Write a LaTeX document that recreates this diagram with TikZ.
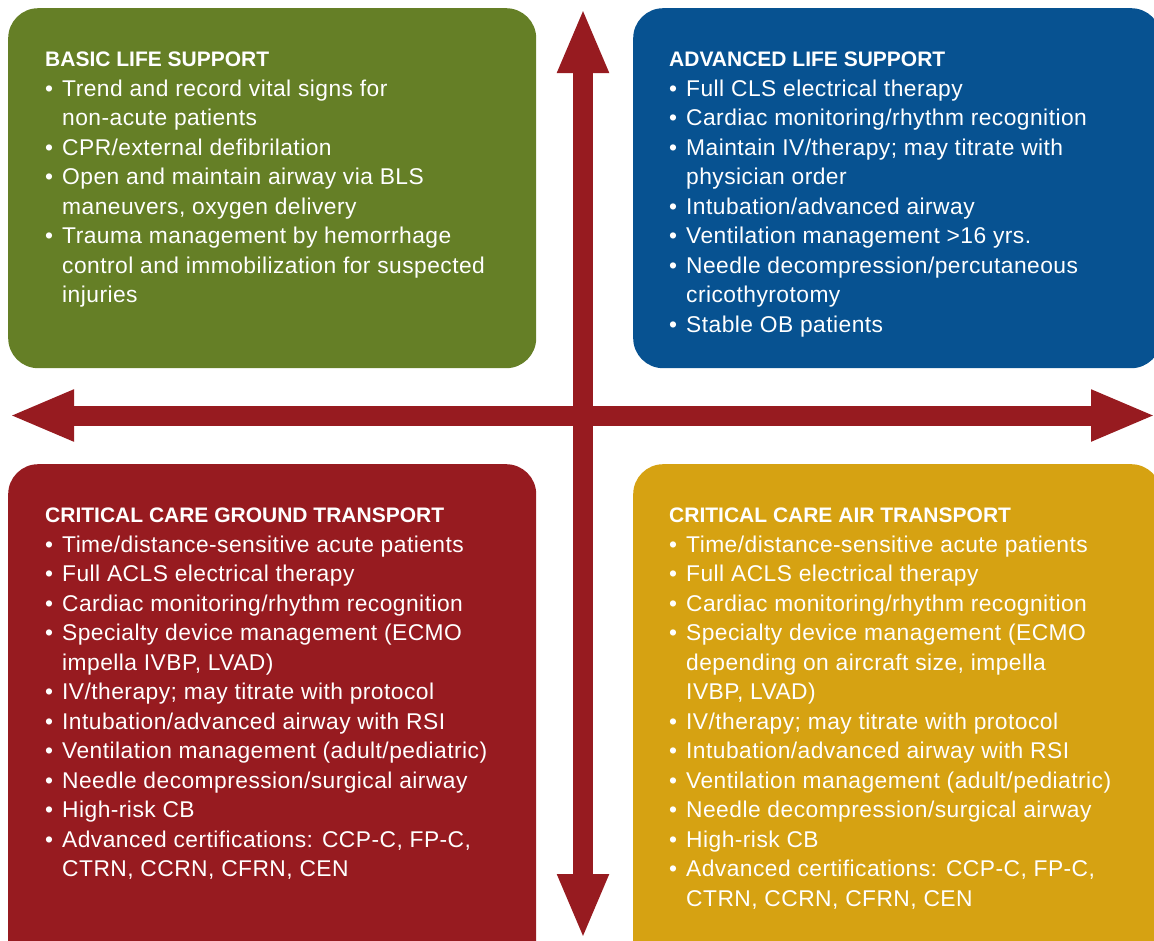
\documentclass[tikz,border=0pt]{standalone}
\usepackage{fontspec}
\setmainfont{Liberation Sans}
\newfontfamily\listfont[LetterSpace=2]{Liberation Sans}
\usepackage{tikz}
\usetikzlibrary{arrows.meta, positioning}
\definecolor{blsgreen}{RGB}{101, 127, 38}
\definecolor{alsblue}{RGB}{7, 82, 145}
\definecolor{ccgred}{RGB}{151, 27, 32}
\definecolor{ccagold}{RGB}{214, 162, 18}
\definecolor{axisred}{RGB}{151, 27, 32}

% bullet and hanging indent for the list lines
\newcommand{\itm}{\makebox[17pt][l]{\textbullet}}
\newcommand{\cnt}{\hspace*{17pt}}
\newcommand{\hd}[1]{{\normalfont\bfseries\fontsize{21}{29.5}\selectfont #1}}

\begin{document}
\begin{tikzpicture}[
        x=1pt, y=-1pt,
        panel/.style={rectangle, rounded corners=30pt, draw=none,
                    minimum width=528pt, anchor=north west, inner sep=0pt},
        blurb/.style={inner sep=0pt, align=left, text=white,
                    font=\listfont\fontsize{22.8}{29.5}\selectfont},
        axis/.style={draw=axisred, line width=20pt,
                    {Triangle[width=47pt,length=65pt]}-{Triangle[width=47pt,length=65pt]}}
      ]
        \useasboundingbox (0,0) rectangle (1154,940);
        \clip (0,0) rectangle (1154,940);

        % the four quadrants
        \node[panel, fill=blsgreen, minimum height=360pt] (bls) at (8,8) {};
        \node[panel, fill=alsblue,  minimum height=360pt] (als) at (633,8) {};
        \node[panel, fill=ccgred,   minimum height=510pt] (ccg) at (8,464) {};
        \node[panel, fill=ccagold,  minimum height=510pt] (cca) at (633,464) {};

        \node[blurb, below right=44pt and 37pt of bls.north west] (blstext) {%
          \hd{BASIC LIFE SUPPORT}\\
          \itm Trend and record vital signs for\\
          \cnt non-acute patients\\
          \itm CPR/external defibrilation\\
          \itm Open and maintain airway via BLS\\
          \cnt maneuvers, oxygen delivery\\
          \itm Trauma management by hemorrhage\\
          \cnt control and immobilization for suspected\\
          \cnt injuries};
        \node[blurb, below right=44pt and 36pt of als.north west] (alstext) {%
          \hd{ADVANCED LIFE SUPPORT}\\
          \itm Full CLS electrical therapy\\
          \itm Cardiac monitoring/rhythm recognition\\
          \itm Maintain IV/therapy; may titrate with\\
          \cnt physician order\\
          \itm Intubation/advanced airway\\
          \itm Ventilation management >16 yrs.\\
          \itm Needle decompression/percutaneous\\
          \cnt cricothyrotomy\\
          \itm Stable OB patients};
        \node[blurb, below right=44pt and 37pt of ccg.north west] (ccgtext) {%
          \hd{CRITICAL CARE GROUND TRANSPORT}\\
          \itm Time/distance-sensitive acute patients\\
          \itm Full ACLS electrical therapy\\
          \itm Cardiac monitoring/rhythm recognition\\
          \itm Specialty device management (ECMO\\
          \cnt impella IVBP, LVAD)\\
          \itm IV/therapy; may titrate with protocol\\
          \itm Intubation/advanced airway with RSI\\
          \itm Ventilation management (adult/pediatric)\\
          \itm Needle decompression/surgical airway\\
          \itm High-risk CB\\
          \itm Advanced certifications: CCP-C, FP-C,\\
          \cnt CTRN, CCRN, CFRN, CEN};
        \node[blurb, below right=44pt and 36pt of cca.north west] (ccatext) {%
          \hd{CRITICAL CARE AIR TRANSPORT}\\
          \itm Time/distance-sensitive acute patients\\
          \itm Full ACLS electrical therapy\\
          \itm Cardiac monitoring/rhythm recognition\\
          \itm Specialty device management (ECMO\\
          \cnt depending on aircraft size, impella\\
          \cnt IVBP, LVAD)\\
          \itm IV/therapy; may titrate with protocol\\
          \itm Intubation/advanced airway with RSI\\
          \itm Ventilation management (adult/pediatric)\\
          \itm Needle decompression/surgical airway\\
          \itm High-risk CB\\
          \itm Advanced certifications: CCP-C, FP-C,\\
          \cnt CTRN, CCRN, CFRN, CEN};

        % cross of double arrows
        \coordinate (up)    at (583,8);
        \coordinate (down)  at (583,939);
        \coordinate (left)  at (9,415.5);
        \coordinate (right) at (1156,415.5);
        \draw[axis] (up) -- (down);
        \draw[axis] (left) -- (right);
      \end{tikzpicture}
\end{document}
